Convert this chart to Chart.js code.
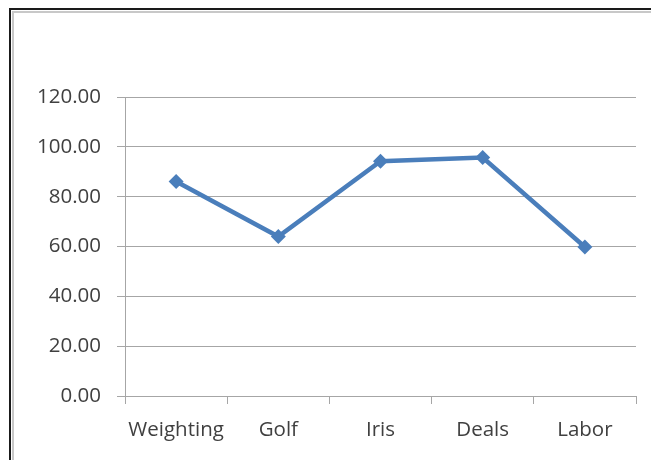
<!DOCTYPE html>
<html>
<head>
<meta charset="utf-8">
<script src="https://cdn.jsdelivr.net/npm/chart.js@4/dist/chart.umd.min.js"></script>
<style>
  html, body { margin: 0; padding: 0; background: #ffffff; }
  #wrap { position: relative; width: 651px; height: 460px; overflow: hidden; background: #fff; }
  #frameOuter { position: absolute; left: 9px; top: 8px; width: 700px; height: 500px; border: 2px solid #1a1a1a; box-sizing: border-box; }
  #frameInner { position: absolute; left: 12px; top: 11px; width: 700px; height: 500px; border: 2px solid #c8c8c8; box-sizing: border-box; }
  canvas { position: absolute; left: 0; top: 0; }
</style>
</head>
<body>
<div id="wrap">
  <div id="frameOuter"></div>
  <div id="frameInner"></div>
  <canvas id="c" width="651" height="460"></canvas>
</div>
<script>
const categories = ["Weighting", "Golf", "Iris", "Deals", "Labor"];
const seriesValues = [86.1, 64.0, 94.2, 95.7, 59.8];
const yTickValues = [0, 20, 40, 60, 80, 100, 120];

const gridColor = "#a6a6a6";
const textColor = "#404040";
const fontFamily = "'Open Sans', 'Liberation Sans', sans-serif";

new Chart(document.getElementById("c"), {
  type: "line",
  data: {
    labels: categories,
    datasets: [{
      data: seriesValues,
      borderColor: "#4a7ebb",
      backgroundColor: "#4a7ebb",
      borderWidth: 4.5,
      pointStyle: "rectRot",
      pointRadius: 7.5,
      pointBorderWidth: 0,
      tension: 0,
      fill: false
    }]
  },
  options: {
    responsive: false,
    animation: false,
    devicePixelRatio: 1,
    layout: { padding: { top: 97, right: 15, bottom: 0, left: 0 } },
    plugins: { legend: { display: false }, tooltip: { enabled: false }, title: { display: false } },
    scales: {
      x: {
        type: "category",
        offset: true,
        grid: { offset: true, drawOnChartArea: false, drawTicks: true, tickLength: 8, color: gridColor, lineWidth: 1 },
        border: { display: true, color: gridColor, width: 1 },
        ticks: { color: textColor, font: { family: fontFamily, size: 20.5 }, padding: 14, maxRotation: 0, autoSkip: false },
        afterFit: (s) => { s.height = 64; }
      },
      y: {
        min: 0,
        max: 120,
        afterBuildTicks: (s) => { s.ticks = yTickValues.map(v => ({ value: v })); },
        grid: { color: gridColor, lineWidth: 1, drawTicks: true, tickLength: 8 },
        border: { display: true, color: gridColor, width: 1 },
        ticks: {
          color: textColor,
          font: { family: fontFamily, size: 20.5 },
          padding: 16,
          callback: (v) => Number(v).toFixed(2)
        },
        afterFit: (s) => { s.width = 125; }
      }
    }
  }
});
</script>
</body>
</html>
